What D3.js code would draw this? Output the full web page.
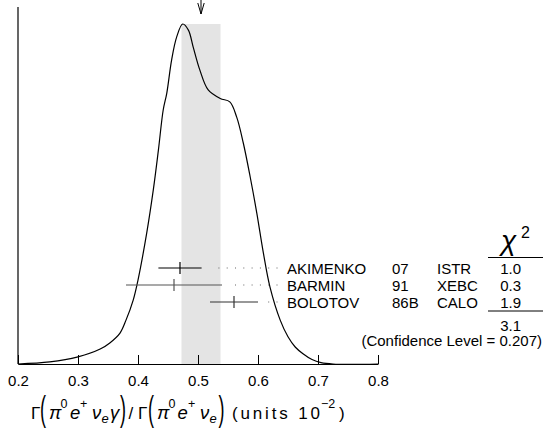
<!DOCTYPE html>
<html>
<head>
<meta charset="utf-8">
<script src="https://cdn.jsdelivr.net/npm/d3@7"></script>
<style>
  html, body { margin: 0; padding: 0; background: #fff; }
  svg { display: block; }
  text { font-family: "Liberation Sans", Arial, sans-serif; }
</style>
</head>
<body>
<svg id="chart" width="543" height="432"></svg>
<script>
// ---- data ----
const names = ["AKIMENKO", "BARMIN", "BOLOTOV"];
const years = ["07", "91", "86B"];
const techs = ["ISTR", "XEBC", "CALO"];
const values = [0.47, 0.46, 0.56];
const errors = [0.036, 0.08, 0.04];
const chi2 = ["1.0", "0.3", "1.9"];
const chi2Total = "3.1";
const confidence = "(Confidence Level = 0.207)";
const mean = 0.505;
const meanErr = 0.0325;
const tickValues = [0.2, 0.3, 0.4, 0.5, 0.6, 0.7, 0.8];
// ideogram curve: [x, relative height]
const curveX = [0.200, 0.253, 0.300, 0.337, 0.353, 0.370, 0.380, 0.392, 0.400, 0.4145, 0.4255, 0.434, 0.442, 0.448, 0.456, 0.4645, 0.4745, 0.484, 0.492, 0.503, 0.517, 0.537, 0.553, 0.5645, 0.5755, 0.587, 0.598, 0.609, 0.620, 0.637, 0.650, 0.662, 0.675, 0.690, 0.705, 0.725, 0.800];
const curveY = [0.000, 0.006, 0.021, 0.044, 0.062, 0.091, 0.129, 0.188, 0.247, 0.385, 0.512, 0.629, 0.747, 0.797, 0.894, 0.962, 1.000, 0.982, 0.932, 0.865, 0.806, 0.781, 0.771, 0.726, 0.650, 0.550, 0.444, 0.326, 0.226, 0.129, 0.080, 0.050, 0.030, 0.013, 0.004, 0.000, 0.000];

// ---- layout ----
const svg = d3.select("#chart");
const x = d3.scaleLinear().domain([0.2, 0.8]).range([18, 378]);
const y = d3.scaleLinear().domain([0, 1]).range([364, 24]);
const row = d3.scaleLinear().domain([0, 2]).range([268, 302]);
const baseY = 364;
const fs = 15;

// shaded band
svg.append("rect")
  .attr("x", x(mean - meanErr)).attr("width", x(mean + meanErr) - x(mean - meanErr))
  .attr("y", y(1)).attr("height", baseY - y(1))
  .attr("fill", "#e4e4e4");

// axis
const axis = d3.axisBottom(x).tickValues(tickValues).tickSizeInner(-9).tickSizeOuter(0)
  .tickFormat(d3.format(".1f"));
const gAxis = svg.append("g").attr("transform", `translate(0,${baseY})`).call(axis);
gAxis.select(".domain").attr("stroke", "#000").attr("stroke-width", 1.2);
gAxis.selectAll(".tick line").attr("stroke", "#000").attr("stroke-width", 1);
gAxis.selectAll(".tick text").attr("y", 22).attr("dy", 0)
  .attr("font-size", fs).attr("fill", "#000")
  .attr("font-family", "'Liberation Sans', Arial, sans-serif");

// left vertical line
svg.append("line").attr("x1", x(0.2)).attr("x2", x(0.2)).attr("y1", 7).attr("y2", baseY)
  .attr("stroke", "#000").attr("stroke-width", 1.2);

// curve
const line = d3.line().x((d, i) => x(curveX[i])).y(d => y(d)).curve(d3.curveCatmullRom.alpha(0.5));
svg.append("path").attr("d", line(curveY)).attr("fill", "none")
  .attr("stroke", "#000").attr("stroke-width", 1.2);

// arrow
const ax = x(mean);
svg.append("line").attr("x1", ax).attr("x2", ax).attr("y1", 0).attr("y2", 14)
  .attr("stroke", "#000").attr("stroke-width", 1);
svg.append("path").attr("d", `M${ax - 3.2},3 L${ax},14 L${ax + 3.2},3`)
  .attr("fill", "none").attr("stroke", "#000").attr("stroke-width", 1);

// measurements
const barColors = ["#000", "#555", "#333"];
const nameX = 287;
values.forEach((v, i) => {
  const yy = row(i);
  svg.append("line").attr("x1", x(v - errors[i])).attr("x2", x(v + errors[i]))
    .attr("y1", yy).attr("y2", yy).attr("stroke", barColors[i]).attr("stroke-width", 1.2);
  svg.append("line").attr("x1", x(v)).attr("x2", x(v)).attr("y1", yy - 6).attr("y2", yy + 6)
    .attr("stroke", barColors[i]).attr("stroke-width", 1.2);
  // dotted leader
  const start = x(v + errors[i]) + 10;
  const dots = [];
  for (let dx = 277; dx >= start; dx -= 8.3) dots.push(dx);
  svg.selectAll(null).data(dots).enter().append("rect")
    .attr("x", d => d - 0.5).attr("y", yy - 0.5).attr("width", 1).attr("height", 1)
    .attr("fill", "#666");
  const ty = yy + 6.3;
  svg.append("text").attr("x", nameX).attr("y", ty).attr("font-size", fs).text(names[i]);
  svg.append("text").attr("x", 392).attr("y", ty).attr("font-size", fs).text(years[i]);
  svg.append("text").attr("x", 437).attr("y", ty).attr("font-size", fs).text(techs[i]);
  svg.append("text").attr("x", 521).attr("y", ty).attr("font-size", fs)
    .attr("text-anchor", "end").text(chi2[i]);
});

// chi2 header
svg.append("text").attr("x", 501).attr("y", 250).attr("font-size", 28)
  .attr("font-family", "'Liberation Serif', serif").attr("font-style", "italic").text("χ");
svg.append("text").attr("x", 521).attr("y", 238).attr("font-size", 16).text("2");
svg.append("line").attr("x1", 488).attr("x2", 543).attr("y1", 257.5).attr("y2", 257.5)
  .attr("stroke", "#000").attr("stroke-width", 1);
svg.append("line").attr("x1", 488).attr("x2", 543).attr("y1", 311).attr("y2", 311)
  .attr("stroke", "#000").attr("stroke-width", 1);
svg.append("text").attr("x", 521).attr("y", 330.5).attr("font-size", fs)
  .attr("text-anchor", "end").text(chi2Total);
svg.append("text").attr("x", 542).attr("y", 346).attr("font-size", fs)
  .attr("text-anchor", "end").text(confidence);

// x axis title, piece by piece
const gT = svg.append("g");
const base = 419, supY = 407.5, subY = 423;
const sans = "'DejaVu Sans', sans-serif", serifI = "'Liberation Serif', serif";
function piece(txt, px, py, size, fam, italic) {
  return gT.append("text").attr("x", px).attr("y", py).attr("font-size", size)
    .attr("font-family", fam).attr("font-style", italic ? "italic" : "normal").text(txt);
}
function bigParen(txt, px) {
  gT.append("text").attr("transform", `translate(${px},421) scale(0.6,1.15)`)
    .attr("font-size", 30).attr("font-family", "'Liberation Serif', serif").text(txt);
}
piece("Γ", 31, base, 17, sans);
bigParen("(", 40);
piece("π", 49, base, 18.5, serifI, true);
piece("0", 60.5, supY, 12.5, sans);
piece("e", 70, base, 18.5, serifI, true);
piece("+", 80, supY, 12.5, sans);
piece("ν", 92, base, 18.5, serifI, true);
piece("e", 101.5, subY, 13, serifI, true);
piece("γ", 110, base, 18.5, serifI, true);
bigParen(")", 120);
piece("/", 128.5, base, 17, sans);
piece("Γ", 138, base, 17, sans);
bigParen("(", 148);
piece("π", 157, base, 18.5, serifI, true);
piece("0", 168.5, supY, 12.5, sans);
piece("e", 177.5, base, 18.5, serifI, true);
piece("+", 188, supY, 12.5, sans);
piece("ν", 200, base, 18.5, serifI, true);
piece("e", 209.5, subY, 13, serifI, true);
bigParen(")", 218.5);
piece("(units 10", 232, base, 17, sans).attr("textLength", 88).attr("lengthAdjust", "spacing");
piece("−2", 321, supY, 12.5, sans);
piece(")", 339, base, 17, sans);
</script>
</body>
</html>
